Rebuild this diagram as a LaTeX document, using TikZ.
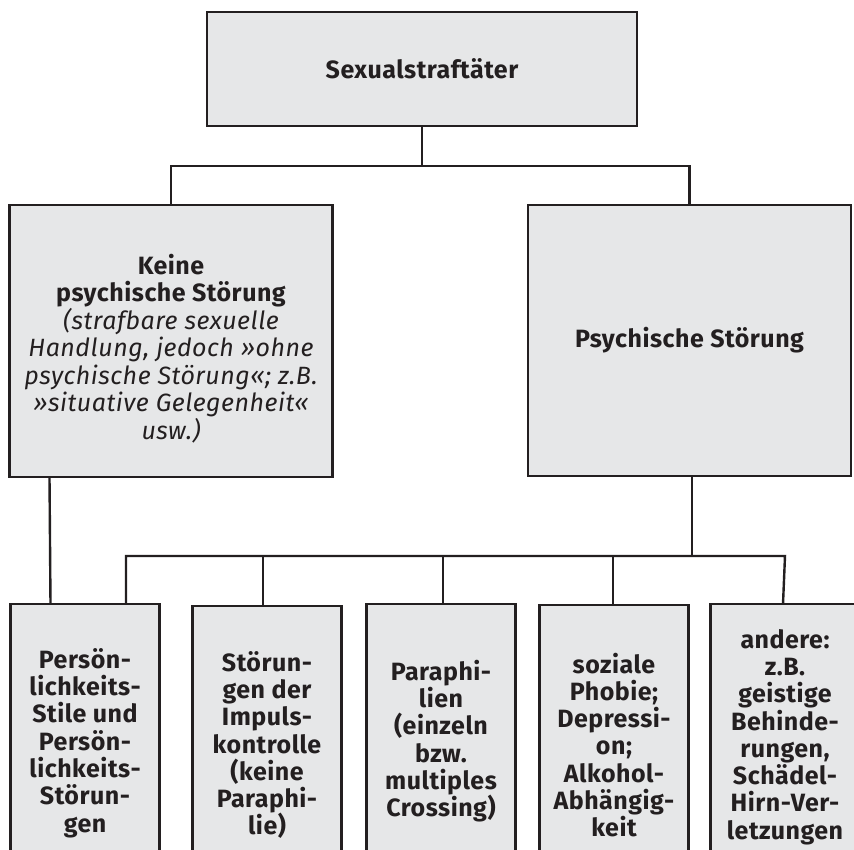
\documentclass[tikz,border=0pt]{standalone}
\usepackage{fontspec}
\setmainfont[LetterSpace=2]{Fira Sans}
\definecolor{boxfill}{HTML}{E6E7E8}
\definecolor{ink}{HTML}{231F20}
\newcommand{\itl}{\mdseries\itshape}
\begin{document}
\begin{tikzpicture}[x=1pt,y=-1pt,
  box/.style={draw=ink, line width=2.6pt, fill=boxfill, text=ink, align=center,
    inner sep=0pt, outer sep=0pt, font=\bfseries\fontsize{25}{27.5}\selectfont},
  smallbox/.style={box, font=\bfseries\fontsize{25}{27.3}\selectfont,
    minimum width=149pt, anchor=north},
  link/.style={draw=ink, line width=2.4pt}]
\useasboundingbox (0,0) rectangle (854,850);
\clip (0,0) rectangle (854,850);
% level 0
\node[box, minimum width=430pt, minimum height=114pt] (top) at (422,69) {Sexualstraftäter};
% level 1
\node[box, minimum width=323pt, minimum height=272pt] (left) at (171,341)
  {\rule{0pt}{35pt}Keine\\psychische Störung\\\itl (strafbare sexuelle\\\itl Handlung, jedoch »ohne\\\itl psychische Störung«; z.B.\\\itl »situative Gelegenheit«\\\itl usw.)};
\node[box, minimum width=323pt, minimum height=271pt] (right) at (689.5,340.5) {Psychische Störung};
% level 2
\node[smallbox, minimum height=278pt] (p1) at (85,604) {Persön-\\lichkeits-\\Stile und\\Persön-\\lichkeits-\\Störun-\\gen};
\node[smallbox, minimum height=278pt] (p2) at (267,606) {Störun-\\gen der\\Impuls-\\kontrolle\\(keine\\Paraphi-\\lie)};
\node[smallbox, minimum height=274pt] (p3) at (441,604) {Paraphi-\\lien\\(einzeln\\bzw.\\multiples\\Crossing)};
\node[smallbox, minimum height=280pt] (p4) at (614,605) {soziale\\Phobie;\\Depressi-\\on;\\Alkohol-\\Abhängig-\\keit};
\node[smallbox, minimum height=266pt] (p5) at (785,604) {andere:\\z.B.\\geistige\\Behinde-\\rungen,\\Schädel-\\Hirn-Ver-\\letzungen};
% connectors
\coordinate (hub1) at (422,166);
\draw[link] (top.south) -- (hub1);
\draw[link] (left.north) |- (hub1) -| (right.north);
\draw[link] ([xshift=40pt]left.south west) -- ([xshift=40pt]p1.north west);
\draw[link] ([xshift=2.5pt]right.south) -- ++(0,80) coordinate (hub2);
\draw[link] ([xshift=41pt]p1.north) |- (p5.north |- hub2) -- ([xshift=-2pt]p5.north);
\draw[link] ([xshift=-4pt]p2.north) -- ([xshift=-4pt]p2.north |- hub2);
\draw[link] ([xshift=2pt]p3.north) -- ([xshift=2pt]p3.north |- hub2);
\draw[link] ([xshift=-1pt]p4.north) -- ([xshift=-1pt]p4.north |- hub2);
\end{tikzpicture}
\end{document}
